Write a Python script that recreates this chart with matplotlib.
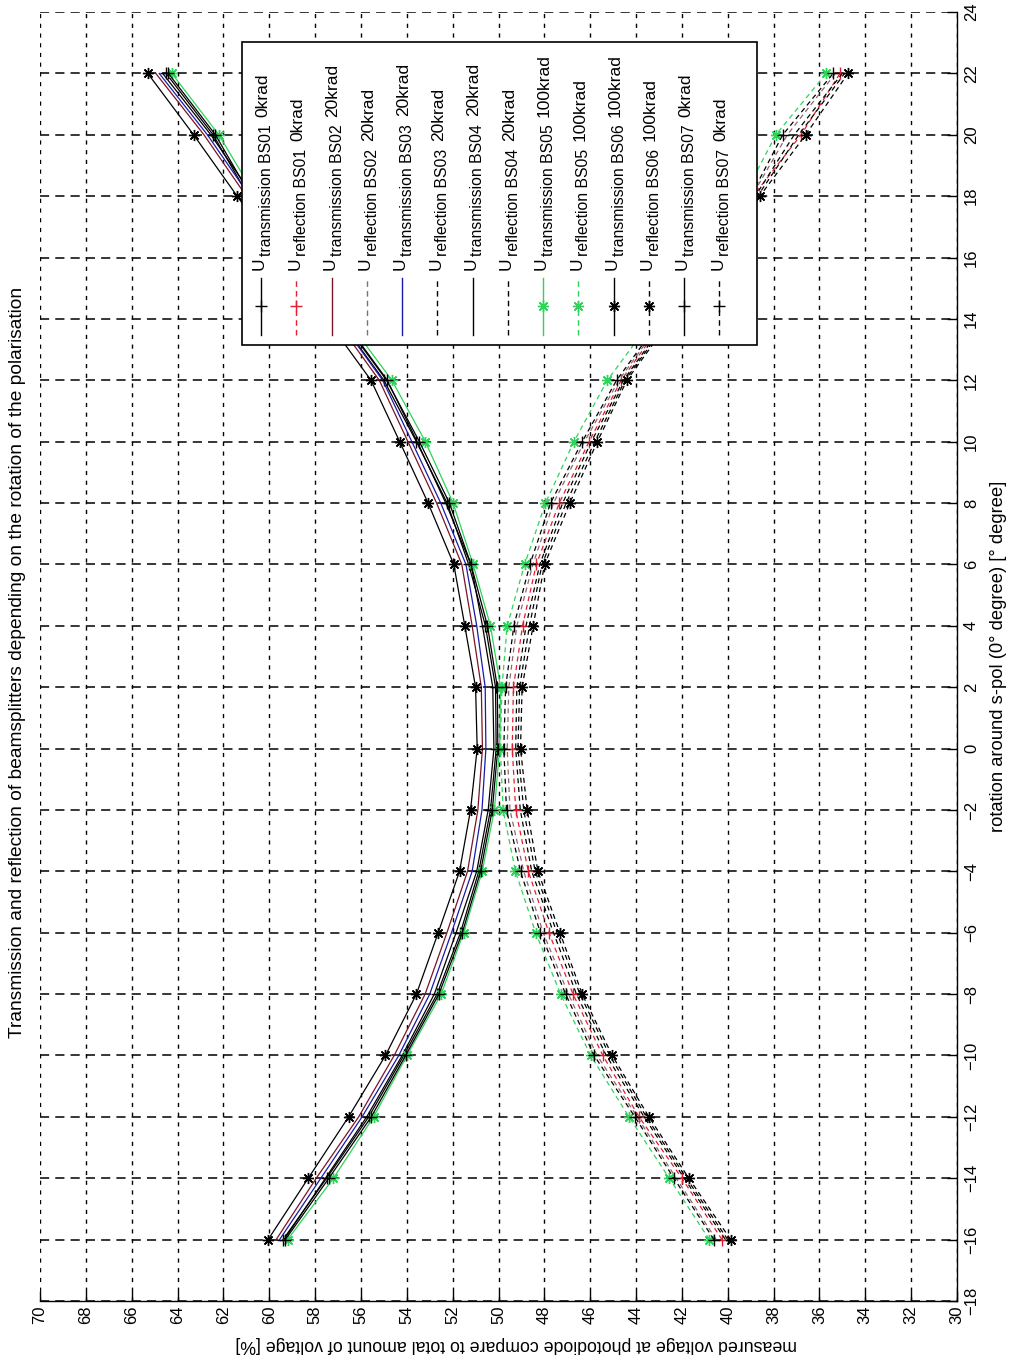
import matplotlib
matplotlib.use("Agg")
import matplotlib.pyplot as plt
from matplotlib.patches import Rectangle
from matplotlib.lines import Line2D

plt.rcParams['font.family'] = ['Liberation Sans', 'DejaVu Sans']

# rotation of the polarisation around s-pol [degree]
angles = [-16, -14, -12, -10, -8, -6, -4, -2, 0, 2, 4, 6, 8, 10, 12, 18, 20, 22]

# measured voltage at the photodiode [% of total voltage]
t_bs01 = [59.40, 57.50, 55.66, 54.13, 52.68, 51.66, 50.86, 50.35, 50.10, 50.13, 50.57, 51.30, 52.24, 53.58, 55.00, 60.90, 62.45, 64.50]
r_bs01 = [40.25, 42.00, 43.87, 45.45, 46.75, 47.80, 48.70, 49.25, 49.40, 49.35, 48.95, 48.35, 47.35, 46.05, 44.65, 38.90, 36.80, 35.10]
t_bs02 = [59.70, 57.95, 56.10, 54.55, 53.20, 52.25, 51.35, 50.90, 50.70, 50.75, 51.15, 51.60, 52.70, 53.95, 55.20, 61.00, 62.85, 64.95]
r_bs02 = [40.50, 42.25, 43.95, 45.70, 46.95, 48.05, 48.90, 49.50, 49.62, 49.55, 49.20, 48.50, 47.60, 46.25, 44.75, 38.95, 37.40, 35.30]
t_bs03 = [59.55, 57.75, 55.95, 54.35, 53.00, 52.05, 51.15, 50.72, 50.55, 50.58, 50.95, 51.42, 52.52, 53.78, 55.05, 60.85, 62.70, 64.80]
r_bs03 = [40.10, 41.90, 43.65, 45.30, 46.60, 47.60, 48.55, 49.05, 49.25, 49.20, 48.80, 48.20, 47.20, 45.95, 44.55, 38.80, 37.10, 35.00]
t_bs04 = [59.35, 57.55, 55.75, 54.20, 52.80, 51.85, 50.95, 50.45, 50.20, 50.25, 50.70, 51.20, 52.30, 53.55, 54.85, 60.70, 62.55, 64.65]
r_bs04 = [40.00, 41.80, 43.55, 45.15, 46.45, 47.45, 48.40, 48.90, 49.15, 49.08, 48.65, 48.10, 47.05, 45.80, 44.48, 38.70, 36.90, 34.90]
t_bs05 = [59.20, 57.20, 55.45, 53.99, 52.50, 51.52, 50.71, 50.18, 49.95, 49.91, 50.35, 51.11, 51.98, 53.19, 54.65, 60.60, 62.20, 64.25]
r_bs05 = [40.80, 42.55, 44.31, 45.98, 47.29, 48.38, 49.26, 49.80, 49.92, 49.85, 49.62, 48.86, 47.95, 46.71, 45.25, 39.30, 37.90, 35.70]
t_bs06 = [60.05, 58.30, 56.54, 54.93, 53.58, 52.63, 51.70, 51.22, 50.93, 51.00, 51.47, 51.95, 53.07, 54.31, 55.56, 61.40, 63.30, 65.30]
r_bs06 = [39.87, 41.70, 43.44, 45.04, 46.35, 47.32, 48.28, 48.75, 49.04, 48.97, 48.49, 47.99, 46.89, 45.69, 44.40, 38.60, 36.60, 34.75]
t_bs07 = [59.30, 57.40, 55.55, 54.05, 52.60, 51.58, 50.78, 50.27, 50.03, 50.05, 50.48, 51.20, 52.14, 53.45, 54.88, 60.80, 62.35, 64.40]
r_bs07 = [40.60, 42.35, 44.05, 45.83, 47.07, 48.17, 49.04, 49.65, 49.77, 49.69, 49.33, 48.63, 47.73, 46.35, 44.85, 39.00, 37.60, 35.40]

value_ticks = list(range(30, 71, 2))
angle_ticks = list(range(-18, 25, 2))

names = ['transmission BS01', 'reflection BS01', 'transmission BS02', 'reflection BS02',
         'transmission BS03', 'reflection BS03', 'transmission BS04', 'reflection BS04',
         'transmission BS05', 'reflection BS05', 'transmission BS06', 'reflection BS06',
         'transmission BS07', 'reflection BS07']
doses = ['0krad', '0krad', '20krad', '20krad', '20krad', '20krad', '20krad', '20krad',
         '100krad', '100krad', '100krad', '100krad', '0krad', '0krad']
values = [t_bs01, r_bs01, t_bs02, r_bs02, t_bs03, r_bs03, t_bs04, r_bs04,
          t_bs05, r_bs05, t_bs06, r_bs06, t_bs07, r_bs07]

asterisk = (8, 2, 0)
green = '#2fd35a'
dash = (0, (4, 3))
styles = [
    dict(color='k', linestyle='-', marker='+'),
    dict(color='#e02030', linestyle=dash, marker='+'),
    dict(color='#7a1525', linestyle='-', marker=None),
    dict(color='#8a6a70', linestyle=dash, marker=None),
    dict(color='#1a1aa8', linestyle='-', marker=None),
    dict(color='k', linestyle=dash, marker=None),
    dict(color='k', linestyle='-', marker=None),
    dict(color='k', linestyle=dash, marker=None),
    dict(color=green, linestyle='-', marker=asterisk),
    dict(color=green, linestyle=dash, marker=asterisk),
    dict(color='k', linestyle='-', marker=asterisk),
    dict(color='k', linestyle=dash, marker=asterisk),
    dict(color='k', linestyle='-', marker='+'),
    dict(color='k', linestyle=dash, marker='+'),
]

W, H = 1016, 1368
fig = plt.figure(figsize=(W / 100, H / 100), dpi=100)
ax_l, ax_r, ax_t, ax_b = 40, 957, 12, 1301
ax = fig.add_axes([ax_l / W, 1 - ax_b / H, (ax_r - ax_l) / W, (ax_b - ax_t) / H])

# the chart is laid out turned on its side: values run horizontally, angles vertically
for vals, st in zip(values, styles):
    ax.plot(vals, angles, color=st['color'], linestyle=st['linestyle'], marker=st['marker'],
            markersize=8, markeredgewidth=1.0, linewidth=0.9, zorder=3)

ax.set_xlim(70, 30)
ax.set_ylim(-18, 24)
ax.set_xticks(value_ticks)
ax.set_yticks(angle_ticks)
ax.xaxis.grid(True, color='k', linestyle=(0, (3, 4)), linewidth=1.0)
ax.yaxis.grid(True, color='k', linestyle=(0, (6, 4)), linewidth=1.1)
ax.set_axisbelow(True)
for side in ('left', 'top'):
    ax.spines[side].set_visible(False)
for side in ('bottom', 'right'):
    ax.spines[side].set_linewidth(1.0)

ax.yaxis.tick_right()
ax.yaxis.set_label_position('right')
ax.tick_params(axis='both', direction='in', length=7, width=1.0, labelsize=12)
ax.tick_params(axis='x', labelrotation=90, pad=3)
ax.tick_params(axis='y', labelrotation=90, pad=5)
for lbl in ax.get_yticklabels():
    lbl.set_va('center')

ax.set_xlabel('measured voltage at photodiode compare to total amount of voltage [%]',
              rotation=180, fontsize=12.8)
ax.xaxis.set_label_coords((516 - ax_l) / (ax_r - ax_l), -0.027)
ax.set_ylabel('rotation around s-pol (0° degree) [° degree]', rotation=90,
              fontsize=13.2, labelpad=8)
fig.text(18 / W, 1 - 662 / H,
         'Transmission and reflection of beamsplitters depending on the rotation of the polarisation',
         rotation=90, ha='center', va='center', fontsize=13.8)

# legend box drawn sideways inside the axes
def fx(px):
    return (px - ax_l) / (ax_r - ax_l)

def fy(py):
    return (ax_b - py) / (ax_b - ax_t)

box_l, box_r, box_t, box_b = 242, 757, 42, 345
ax.add_patch(Rectangle((fx(box_l), fy(box_b)), fx(box_r) - fx(box_l), fy(box_t) - fy(box_b),
                       transform=ax.transAxes, facecolor='white', edgecolor='k',
                       linewidth=1.2, zorder=10))
step = 35.25
rot = dict(rotation=90, rotation_mode='anchor', ha='left', va='baseline', zorder=12)
for i, (name, dose, st) in enumerate(zip(names, doses, styles)):
    lx = 261 + step * i
    ax.add_line(Line2D([fx(lx), fx(lx)], [fy(335), fy(278)], transform=ax.transAxes,
                       color=st['color'], linestyle=st['linestyle'], linewidth=1.0,
                       zorder=11))
    if st['marker'] is not None:
        ax.add_line(Line2D([fx(lx)], [fy(306)], transform=ax.transAxes,
                           color=st['color'], marker=st['marker'], markersize=8,
                           markeredgewidth=1.0, linestyle='none', zorder=11))
    u = ax.text(fx(lx + 3), fy(270), 'U', transform=ax.transAxes, fontsize=12.5, **rot)
    sub = ax.annotate(name, xy=(1, 1), xycoords=u, xytext=(4, 1),
                      textcoords='offset pixels', fontsize=11.3, **rot)
    ax.annotate(dose, xy=(1, 1), xycoords=(u, sub), xytext=(0, 8),
                textcoords='offset pixels', fontsize=12.5, **rot)

fig.savefig('out.png', dpi=100)
